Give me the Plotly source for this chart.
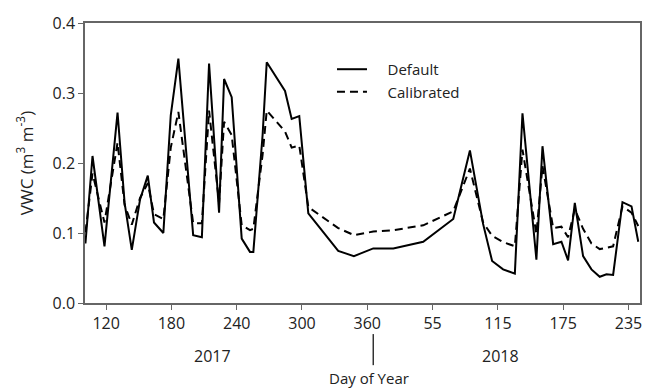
import plotly.graph_objects as go

# Day index: 2017 DOY as is, 2018 DOY + 365
days = [101, 107.5, 118.5, 130.5, 137, 143.6, 151.2, 158.3, 164, 172.6, 179.4, 186.4,
        200, 208, 214.6, 223.8, 228.4, 235.4, 244.6, 252.2, 255.3, 263.8, 267.6, 284.4,
        290.5, 297.5, 305.8, 333.3, 347.7, 365.5, 383.9, 411.4, 439, 454.3, 466.4, 474.7,
        484.8, 495.6, 502.6, 515.4, 521, 530.8, 538.4, 544.5, 550.7, 558.3, 566, 573.6,
        579.8, 585.9, 594.5, 602.8, 609]
default_vwc = [0.085, 0.210, 0.081, 0.272, 0.143, 0.076, 0.148, 0.182, 0.115, 0.100, 0.268, 0.349,
               0.097, 0.094, 0.342, 0.129, 0.320, 0.294, 0.092, 0.073, 0.073, 0.240, 0.344, 0.303,
               0.263, 0.267, 0.128, 0.0745, 0.067, 0.078, 0.078, 0.0875, 0.120, 0.218, 0.113, 0.060,
               0.048, 0.042, 0.271, 0.062, 0.224, 0.084, 0.0875, 0.061, 0.143, 0.067, 0.048, 0.0375,
               0.041, 0.040, 0.144, 0.138, 0.0875]
calibrated_vwc = [0.101, 0.185, 0.115, 0.229, 0.140, 0.112, 0.150, 0.171, 0.127, 0.120, 0.222, 0.273,
                  0.114, 0.114, 0.275, 0.143, 0.259, 0.240, 0.111, 0.104, 0.106, 0.212, 0.275, 0.245,
                  0.222, 0.225, 0.137, 0.107, 0.097, 0.102, 0.104, 0.111, 0.131, 0.192, 0.115, 0.096,
                  0.087, 0.081, 0.219, 0.099, 0.196, 0.107, 0.109, 0.094, 0.134, 0.106, 0.085, 0.077,
                  0.079, 0.081, 0.138, 0.129, 0.110]

tick_vals = [120, 180, 240, 300, 360, 420, 480, 540, 600]
tick_text = ["120", "180", "240", "300", "360", "55", "115", "175", "235"]
year_labels = ["2017", "2018"]
year_pos = [218, 482.5]

FONT = "Open Sans"
PAD = "\u00a0" * 4

fig = go.Figure()
fig.add_trace(go.Scatter(x=days, y=default_vwc, mode="lines", name=PAD + "Default",
                         line=dict(color="black", width=2)))
fig.add_trace(go.Scatter(x=days, y=calibrated_vwc, mode="lines", name=PAD + "Calibrated",
                         line=dict(color="black", width=2, dash="8px,5px")))

for lbl, xp in zip(year_labels, year_pos):
    fig.add_annotation(x=xp, y=-0.1875, xref="x", yref="paper", text=lbl, showarrow=False,
                       yanchor="middle", font=dict(family=FONT, size=16, color="#222"))
fig.add_annotation(x=362, y=-0.267, xref="x", yref="paper", text="Day of Year", showarrow=False,
                   yanchor="middle", font=dict(family=FONT, size=15, color="#222"))
fig.add_shape(type="line", x0=365.5, x1=365.5, y0=-0.111, y1=-0.222, xref="x", yref="paper",
              line=dict(color="#333", width=1.5))

fig.update_layout(
    width=657, height=391,
    margin=dict(l=85, r=17, t=15, b=88),
    plot_bgcolor="white", paper_bgcolor="white",
    font=dict(family=FONT, size=16, color="#222"),
    showlegend=True,
    legend=dict(x=0.445, y=0.893, xanchor="left", yanchor="top", bgcolor="rgba(0,0,0,0)",
                font=dict(family=FONT, size=15, color="#222"), tracegroupgap=0,
                itemwidth=30),
    xaxis=dict(range=[100.6, 610.6], tickvals=tick_vals, ticktext=tick_text,
               showgrid=False, zeroline=False, showline=True, linecolor="#666", linewidth=1.5,
               mirror=True, ticks="outside", ticklen=5, tickcolor="#666",
               tickfont=dict(family=FONT, size=16)),
    yaxis=dict(range=[0, 0.4], tickvals=[0, 0.1, 0.2, 0.3, 0.4], tickformat=".1f",
               showgrid=False, zeroline=False, showline=True, linecolor="#666", linewidth=1.5,
               mirror=True, ticks="outside", ticklen=5, tickcolor="#666",
               tickfont=dict(family=FONT, size=16),
               title=dict(text="VWC (m<sup>3</sup> m<sup>-3</sup>)", font=dict(family=FONT, size=17),
                          standoff=15)),
)

fig.write_html("out.html")
